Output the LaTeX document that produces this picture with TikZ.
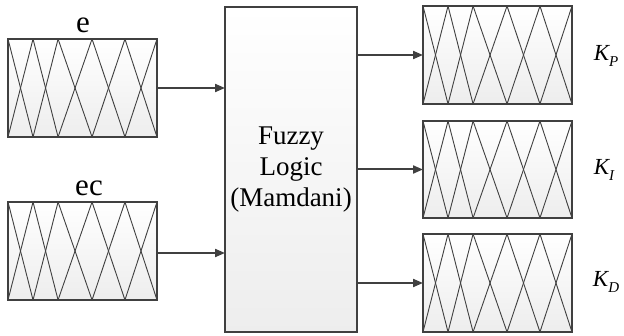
\documentclass[tikz,border=0pt]{standalone}
\usepackage{fontspec}
\setmainfont{Liberation Serif}
\usetikzlibrary{calc,arrows.meta}
\definecolor{edge}{HTML}{404040}
\tikzset{
  fbox/.style={draw=edge, line width=1.1pt, top color=white, bottom color=black!7,
    inner sep=0pt, outer sep=0pt, anchor=north west},
  mfbox/.style={fbox, minimum width=149pt, minimum height=98pt},
  mfline/.style={draw=edge, line width=0.9pt},
  conn/.style={draw=edge, line width=2pt, -{Triangle[length=10pt,width=8pt]}},
  lbl/.style={inner sep=0pt, font=\fontsize{31}{33}\selectfont},
  klbl/.style={inner sep=0pt, font=\fontsize{23}{25}\selectfont\itshape},
}
\newcommand{\ksub}[1]{K\raisebox{-0.22em}{\fontsize{15}{16}\selectfont #1}}
\newcommand{\mfs}[1]{%
  \foreach \a/\b in {0/0.168, 0.168/0.336, 0.336/0.564, 0.564/0.785, 0.785/1}{
    \draw[mfline] ($(#1.north west)!\a!(#1.north east)$) -- ($(#1.south west)!\b!(#1.south east)$);
    \draw[mfline] ($(#1.north west)!\b!(#1.north east)$) -- ($(#1.south west)!\a!(#1.south east)$);
  }}
\begin{document}
\begin{tikzpicture}[x=1pt, y=-1pt]
\useasboundingbox (0,0) rectangle (624,336);
% input boxes
\node[mfbox] (e) at (8,39) {};
\node[mfbox] (ec) at (8,202) {};
\mfs{e}
\mfs{ec}
\node[lbl, anchor=base] (le) at (83,33) {e};
\node[lbl, anchor=base] (lec) at (89,196) {ec};
% fuzzy logic block
\node[fbox, minimum width=132pt, minimum height=325pt, align=center,
  font=\fontsize{27}{31}\selectfont] (fl) at (225,7) {Fuzzy\\Logic\\(Mamdani)};
% output boxes
\node[mfbox] (kp) at (423,6) {};
\node[mfbox, minimum height=97pt] (ki) at (423,121) {};
\node[mfbox] (kd) at (423,234) {};
\mfs{kp}
\mfs{ki}
\mfs{kd}
\node[klbl] (lkp) at (606,56) {\ksub{P}};
\node[klbl] (lki) at (604,170) {\ksub{I}};
\node[klbl] (lkd) at (606,282) {\ksub{D}};
% connectors
\draw[conn] (e.east) -- (e.east -| fl.west);
\draw[conn] ($(ec.east)+(0,2)$) -- ($(ec.east -| fl.west)+(0,2)$);
\draw[conn] (fl.east |- kp.west) -- (kp.west);
\draw[conn] (fl.east |- ki.west) -- (ki.west);
\draw[conn] (fl.east |- kd.west) -- (kd.west);
\end{tikzpicture}
\end{document}
